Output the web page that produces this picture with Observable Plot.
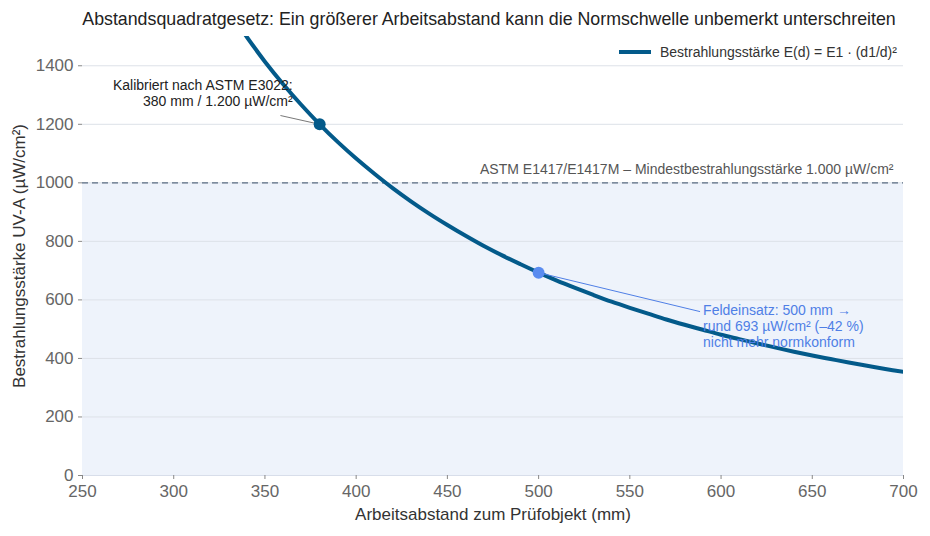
<!DOCTYPE html>
<html>
<head>
<meta charset="utf-8">
<script src="https://cdn.jsdelivr.net/npm/d3@7"></script>
<script src="https://cdn.jsdelivr.net/npm/@observablehq/plot@0.6"></script>
<style>
  body { margin: 0; background: #fff; font-family: "Liberation Sans", Arial, sans-serif; }
  #wrap { position: relative; width: 930px; }
  #title { height: 36px; line-height: 38px; text-align: center; font-size: 17.8px; color: #222; white-space: nowrap; padding-left: 48px; box-sizing: border-box; width: 930px; }
  #legend { position: absolute; left: 619px; top: 44px; font-size: 14px; color: #333; display: flex; align-items: center; white-space: nowrap; }
  #legend .sw { width: 32px; height: 4px; background: #035a8a; margin-right: 9px; }
</style>
</head>
<body>
<div id="wrap">
  <div id="title">Abstandsquadratgesetz: Ein größerer Arbeitsabstand kann die Normschwelle unbemerkt unterschreiten</div>
  <div id="legend"><span class="sw"></span><span>Bestrahlungsstärke E(d) = E1 · (d1/d)²</span></div>
  <div id="chart"></div>
</div>
<script>
// Distances (mm) and irradiance values (µW/cm²)
const distances = [330, 340, 350, 360, 370, 380, 390, 400, 410, 420, 430, 440, 450, 460, 470, 480, 490, 500,
  510, 520, 530, 540, 550, 560, 570, 580, 590, 600, 610, 620, 630, 640, 650, 660, 670, 680, 690, 700];
const irradiance = [1591, 1499, 1414, 1337, 1266, 1200, 1139, 1083, 1031, 982, 937, 895, 856, 819, 784, 752, 722, 693,
  666, 641, 617, 594, 573, 553, 533, 515, 498, 481, 466, 451, 437, 423, 410, 398, 386, 375, 364, 354];
const xTicks = [250, 300, 350, 400, 450, 500, 550, 600, 650, 700];
const yTicks = [0, 200, 400, 600, 800, 1000, 1200, 1400];
const threshold = 1000;
const calibPoint = [{d: 380, e: 1200}];
const fieldPoint = [{d: 500, e: 693}];

const curve = distances.map((d, i) => ({d, e: irradiance[i]}));

const chart = Plot.plot({
  width: 930,
  height: 500,
  marginTop: 0,
  marginBottom: 61,
  marginLeft: 82,
  marginRight: 27,
  style: {fontFamily: "Liberation Sans, Arial, sans-serif", background: "transparent", fontSize: "17px"},
  x: {domain: [250, 700]},
  y: {domain: [0, 1500]},
  marks: [
    Plot.rect([{x1: 250, x2: 700, y1: 0, y2: threshold}], {x1: "x1", x2: "x2", y1: "y1", y2: "y2", fill: "#eef3fb"}),
    Plot.gridY(yTicks, {stroke: "#dde1e8", strokeOpacity: 1}),
    Plot.ruleY([0], {stroke: "#d8deea"}),
    Plot.axisY({ticks: yTicks, tickFormat: "d", tickSize: 4, tickPadding: 5, fontSize: 17, color: "#666", stroke: "#888", label: null}),
    Plot.axisY({ticks: [], tickSize: 0, fontSize: 17, color: "#333",
      label: "Bestrahlungsstärke UV-A (µW/cm²)", labelAnchor: "center", labelArrow: "none", labelOffset: 70}),
    Plot.axisX({ticks: xTicks, tickFormat: "d", tickSize: 4, tickPadding: 5, fontSize: 17, color: "#666", stroke: "#888", label: null}),
    Plot.axisX({ticks: [], tickSize: 0, fontSize: 17, color: "#333",
      label: "Arbeitsabstand zum Prüfobjekt (mm)", labelAnchor: "center", labelArrow: "none", labelOffset: 44}),
    Plot.ruleY([threshold], {stroke: "#5b6d82", strokeWidth: 1.3, strokeDasharray: "6,4"}),
    Plot.text([threshold], {y: d => d, x: 700, dx: -10, dy: -13, textAnchor: "end", fontSize: 14, fill: "#555",
      text: () => "ASTM E1417/E1417M – Mindestbestrahlungsstärke 1.000 µW/cm²"}),
    Plot.line(curve, {x: "d", y: "e", stroke: "#035a8a", strokeWidth: 4, clip: true, curve: "catmull-rom"}),
    // calibration annotation
    Plot.link(calibPoint, {x1: d => d.d - 21.5, y1: d => d.e + 30, x2: "d", y2: "e", stroke: "#555", strokeWidth: 0.8}),
    Plot.dot(calibPoint, {x: "d", y: "e", r: 6, fill: "#035a8a"}),
    Plot.text(calibPoint, {x: "d", y: "e", dx: -27, dy: -31, textAnchor: "end", lineHeight: 1.15, fontSize: 14, fill: "#222",
      text: () => "Kalibriert nach ASTM E3022:\n380 mm / 1.200 µW/cm²"}),
    // field annotation
    Plot.link(fieldPoint, {x1: "d", y1: "e", x2: d => d.d + 88.5, y2: d => d.e - 133, stroke: "#4f7fe6", strokeWidth: 1}),
    Plot.dot(fieldPoint, {x: "d", y: "e", r: 6, fill: "#5a8cf0"}),
    Plot.text(fieldPoint, {x: d => d.d + 88.5, y: d => d.e - 133, dx: 3, dy: -8, textAnchor: "start", lineAnchor: "top",
      lineHeight: 1.15, fontSize: 14, fill: "#4f7fe6",
      text: () => "Feldeinsatz: 500 mm →\nrund 693 µW/cm² (–42 %)\nnicht mehr normkonform"})
  ]
});
document.getElementById("chart").appendChild(chart);
</script>
</body>
</html>
